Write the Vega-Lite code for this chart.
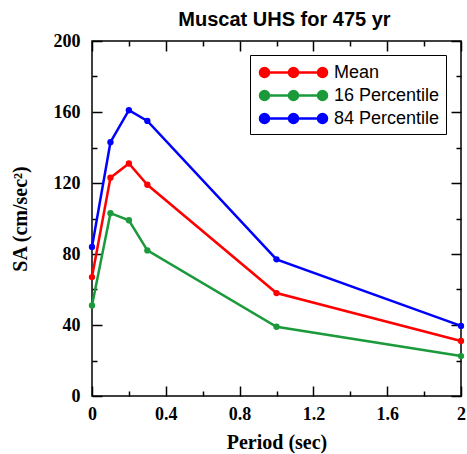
{
  "$schema": "https://vega.github.io/schema/vega-lite/v6.json",
  "autosize": "none",
  "width": 369,
  "height": 355,
  "padding": {"left": 92, "top": 41, "right": 6, "bottom": 58},
  "background": "white",
  "config": {
    "view": {"stroke": "black", "strokeWidth": 1.5},
    "axis": {"domain": false, "grid": false}
  },
  "title": {
    "text": "Muscat UHS for 475 yr",
    "font": "Liberation Sans",
    "fontSize": 20,
    "fontWeight": "bold",
    "color": "black",
    "offset": 2,
    "dx": 8
  },
  "data": {
    "values": [
      {"period": 0, "sa": 67, "series": "Mean"},
      {"period": 0.1, "sa": 123, "series": "Mean"},
      {"period": 0.2, "sa": 131, "series": "Mean"},
      {"period": 0.3, "sa": 119, "series": "Mean"},
      {"period": 1.0, "sa": 58, "series": "Mean"},
      {"period": 2.0, "sa": 31, "series": "Mean"},
      {"period": 0, "sa": 51, "series": "16 Percentile"},
      {"period": 0.1, "sa": 103, "series": "16 Percentile"},
      {"period": 0.2, "sa": 99, "series": "16 Percentile"},
      {"period": 0.3, "sa": 82, "series": "16 Percentile"},
      {"period": 1.0, "sa": 39, "series": "16 Percentile"},
      {"period": 2.0, "sa": 22.5, "series": "16 Percentile"},
      {"period": 0, "sa": 84, "series": "84 Percentile"},
      {"period": 0.1, "sa": 143, "series": "84 Percentile"},
      {"period": 0.2, "sa": 161, "series": "84 Percentile"},
      {"period": 0.3, "sa": 155, "series": "84 Percentile"},
      {"period": 1.0, "sa": 77, "series": "84 Percentile"},
      {"period": 2.0, "sa": 39.5, "series": "84 Percentile"}
    ]
  },
  "layer": [
    {
      "mark": {"type": "line", "strokeWidth": 2.5, "point": {"filled": true, "size": 40, "opacity": 1}},
      "encoding": {
        "x": {
          "field": "period", "type": "quantitative",
          "scale": {"domain": [0, 2], "nice": false, "zero": false},
          "axis": {
            "orient": "bottom",
            "values": [0, 0.2, 0.4, 0.6, 0.8, 1.0, 1.2, 1.4, 1.6, 1.8, 2.0],
            "format": "~g",
            "labelExpr": "round(datum.value*5)%2==0 ? datum.label : ''",
            "tickSize": {"condition": {"test": "round(datum.value*5)%2==0", "value": -10}, "value": -5},
            "tickColor": "black", "tickWidth": 1.5,
            "labelFont": "Liberation Serif", "labelFontSize": 18, "labelFontWeight": "bold", "labelColor": "black",
            "labelPadding": 19,
            "labelFlush": false,
            "title": "Period (sec)",
            "titleFont": "Liberation Serif", "titleFontSize": 20, "titleFontWeight": "bold", "titleColor": "black",
            "titlePadding": 9
          }
        },
        "y": {
          "field": "sa", "type": "quantitative",
          "scale": {"domain": [0, 200], "nice": false},
          "axis": {
            "orient": "left",
            "values": [0, 20, 40, 60, 80, 100, 120, 140, 160, 180, 200],
            "labelExpr": "datum.value % 40 == 0 ? datum.label : ''",
            "tickSize": {"condition": {"test": "datum.value % 40 == 0", "value": -10}, "value": -5},
            "tickColor": "black", "tickWidth": 1.5,
            "labelFont": "Liberation Serif", "labelFontSize": 18, "labelFontWeight": "bold", "labelColor": "black",
            "labelPadding": 22,
            "labelFlush": false,
            "title": "SA (cm/sec²)",
            "titleFont": "Liberation Serif", "titleFontSize": 20, "titleFontWeight": "bold", "titleColor": "black",
            "titlePadding": 23
          }
        },
        "color": {
          "field": "series", "type": "nominal",
          "scale": {"domain": ["Mean", "16 Percentile", "84 Percentile"], "range": ["#ff0000", "#1a9a3a", "#0000ff"]},
          "legend": {
            "title": null,
            "orient": "none",
            "legendX": 158,
            "legendY": 14,
            "strokeColor": "black",
            "fillColor": "white",
            "padding": 6,
            "symbolType": "M-2.9,0H2.9M-3.35,0a0.45,0.45 0 1,0 0.9,0a0.45,0.45 0 1,0 -0.9,0M-0.45,0a0.45,0.45 0 1,0 0.9,0a0.45,0.45 0 1,0 -0.9,0M2.45,0a0.45,0.45 0 1,0 0.9,0a0.45,0.45 0 1,0 -0.9,0",
            "symbolSize": 400,
            "symbolStrokeWidth": 2.5,
            "symbolOffset": 26,
            "labelOffset": 29,
            "labelFont": "Liberation Sans",
            "labelFontSize": 18,
            "labelColor": "black",
            "rowPadding": 2,
            "encode": {
              "symbols": {"update": {"fill": {"scale": "color", "field": "value"}, "stroke": {"scale": "color", "field": "value"}, "opacity": {"value": 1}, "fillOpacity": {"value": 1}}}
            }
          }
        }
      }
    },
    {
      "mark": {"type": "point", "opacity": 0},
      "encoding": {
        "x": {
          "field": "period", "type": "quantitative",
          "scale": {"domain": [0, 2], "nice": false, "zero": false},
          "axis": {
            "orient": "top",
            "values": [0, 0.2, 0.4, 0.6, 0.8, 1.0, 1.2, 1.4, 1.6, 1.8, 2.0],
            "labels": false,
            "title": null,
            "tickSize": {"condition": {"test": "round(datum.value*5)%2==0", "value": -10}, "value": -5},
            "tickColor": "black", "tickWidth": 1.5
          }
        },
        "y": {
          "field": "sa", "type": "quantitative",
          "scale": {"domain": [0, 200], "nice": false},
          "axis": {
            "orient": "right",
            "values": [0, 20, 40, 60, 80, 100, 120, 140, 160, 180, 200],
            "labels": false,
            "title": null,
            "tickSize": {"condition": {"test": "datum.value % 40 == 0", "value": -10}, "value": -5},
            "tickColor": "black", "tickWidth": 1.5
          }
        }
      }
    }
  ],
  "resolve": {"axis": {"x": "independent", "y": "independent"}}
}
